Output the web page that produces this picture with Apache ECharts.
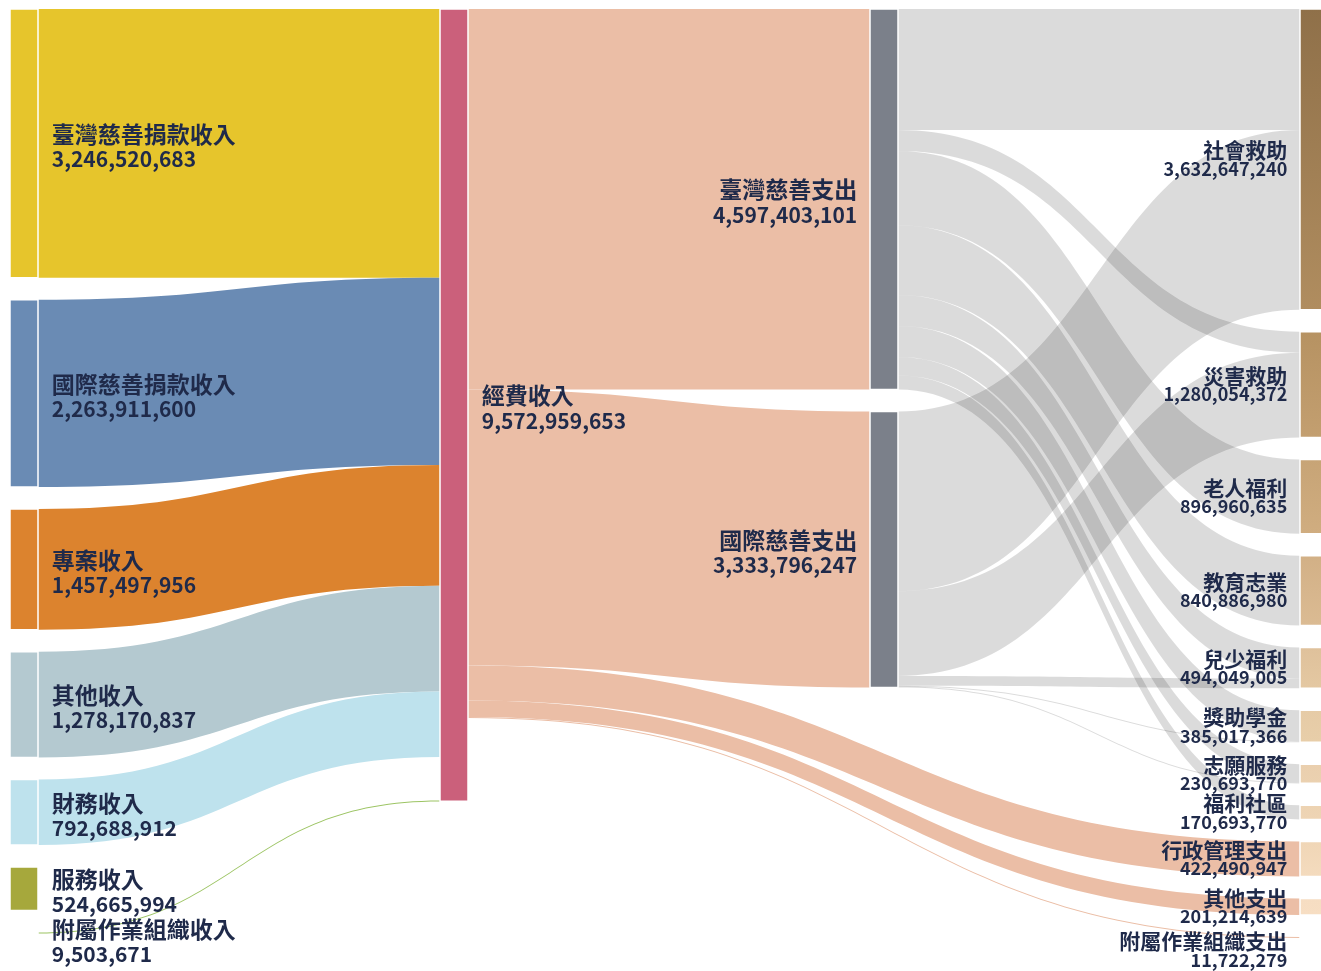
<!DOCTYPE html>
<html>
<head>
<meta charset="utf-8">
<script src="https://cdn.jsdelivr.net/npm/echarts@6/dist/echarts.min.js"></script>
<style>
  html, body { margin: 0; padding: 0; background: #fff; }
  #chart { width: 1321px; height: 971px; }
</style>
</head>
<body>
<div id="chart"></div>
<script>
// income -> 經費收入
var incomeNames = ['臺灣慈善捐款收入', '國際慈善捐款收入', '專案收入', '其他收入', '財務收入', '服務收入', '附屬作業組織收入'];
var incomeValues = [3246520683, 2263911600, 1457497956, 1278170837, 792688912, 524665994, 9503671];

var fundName = '經費收入';
var fundValue = 9572959653;

// 經費收入 -> spending
var spendNames = ['臺灣慈善支出', '國際慈善支出', '行政管理支出', '其他支出', '附屬作業組織支出'];
var spendValues = [4597403101, 3333796247, 422490947, 201214639, 11722279];

// charity spending -> programs
var programNames = ['社會救助', '災害救助', '老人福利', '教育志業', '兒少福利', '獎助學金', '志願服務', '福利社區'];
var programValues = [3632647240, 1280054372, 896960635, 840886980, 494049005, 385017366, 230693770, 170693770];
// split (臺灣 / 國際)
var twProgram = [1462000000, 255000000, 896960635, 840886980, 376049005, 375017366, 220795345, 170693770];
var intlProgram = [2170647240, 1025054372, 0, 0, 118000000, 10000000, 9898425, 0];

// styles
var incomeColors = ['#e6c52c', '#6a8bb4', '#dc832e', '#b4c9d0', '#bee2ed', '#a6a83c', '#9cc463'];
var fundColor = '#cb607b';
var charityColor = '#7b808a';
var midLinkColor = '#ebbea6';
var rightColors = [
  ['#8f7049', '#b08d5f'], ['#b69262', '#c39f70'], ['#c7a476', '#d0ad80'], ['#d2b086', '#dbbb93'],
  ['#dfc19b', '#e4c8a2'], ['#e6cba6', '#e8cea9'], ['#eacfae', '#ebd1b0'], ['#edd3b2', '#eed4b4'],
  ['#f0d6b6', '#f4dbbe'], ['#f6ddc2', '#f7dec3'], ['#f8dfc5', '#f8dfc5']
];
var textColor = '#1f2a4a';
var font = '"Noto Sans CJK TC", "Noto Sans", sans-serif';

var nodeValue = {};
incomeNames.forEach(function (n, i) { nodeValue[n] = incomeValues[i]; });
nodeValue[fundName] = fundValue;
spendNames.forEach(function (n, i) { nodeValue[n] = spendValues[i]; });
programNames.forEach(function (n, i) { nodeValue[n] = programValues[i]; });

function fmt(v) { return v.toString().replace(/\B(?=(\d{3})+(?!\d))/g, ','); }
function labelText(p) { return '{n|' + p.name + '}\n{v|' + fmt(nodeValue[p.name]) + '}'; }

var bigLabel = {
  color: textColor, distance: 13, formatter: labelText, padding: [6, 0, 0, 0],
  rich: {
    n: { fontSize: 23, lineHeight: 25, fontWeight: 'bold', color: textColor, fontFamily: font },
    v: { fontSize: 21, lineHeight: 25, fontWeight: 'bold', color: textColor, fontFamily: font }
  }
};
var smallLabel = {
  position: 'left', color: textColor, distance: 12, formatter: labelText,
  rich: {
    n: { fontSize: 21, lineHeight: 19, fontWeight: 'bold', color: textColor, fontFamily: font },
    v: { fontSize: 18, lineHeight: 18, fontWeight: 'bold', color: textColor, fontFamily: font }
  }
};

function grad(c) {
  return { type: 'linear', x: 0, y: 0, x2: 0, y2: 1, colorStops: [{ offset: 0, color: c[0] }, { offset: 1, color: c[1] }] };
}

var nodes = [];
incomeNames.forEach(function (n, i) {
  var lab = Object.assign({ position: 'right' }, bigLabel);
  if (n === '附屬作業組織收入') lab.padding = [18, 0, 0, 0]; // tiny node, label sits a bit lower
  nodes.push({ name: n, value: incomeValues[i], itemStyle: { color: incomeColors[i] }, label: lab });
});
nodes.push({ name: fundName, value: fundValue, itemStyle: { color: fundColor },
  label: Object.assign({ position: 'right' }, bigLabel) });
nodes.push({ name: spendNames[0], value: spendValues[0], itemStyle: { color: charityColor },
  label: Object.assign({}, bigLabel, { position: 'left', distance: 12 }) });
nodes.push({ name: spendNames[1], value: spendValues[1], itemStyle: { color: charityColor },
  label: Object.assign({}, bigLabel, { position: 'left', distance: 12 }) });
var rightNames = programNames.concat(spendNames.slice(2));
rightNames.forEach(function (n, i) {
  var lab = smallLabel;
  if (n === '附屬作業組織支出') lab = Object.assign({}, smallLabel, { padding: [26, 0, 0, 0] });
  nodes.push({ name: n, value: nodeValue[n], itemStyle: { color: grad(rightColors[i]) }, label: lab });
});

var links = [];
incomeNames.forEach(function (n, i) {
  links.push({ source: n, target: fundName, value: incomeValues[i],
    lineStyle: { color: incomeColors[i], opacity: n === '服務收入' ? 0 : 1 } });
});
spendNames.forEach(function (n, i) {
  links.push({ source: fundName, target: n, value: spendValues[i], lineStyle: { color: midLinkColor, opacity: 1 } });
});
programNames.forEach(function (n, i) {
  if (twProgram[i] > 0) links.push({ source: spendNames[0], target: n, value: twProgram[i] });
  if (intlProgram[i] > 0) links.push({ source: spendNames[1], target: n, value: intlProgram[i] });
});

var chart = echarts.init(document.getElementById('chart'));
chart.setOption({
  animation: false,
  series: [{
    type: 'sankey',
    left: 10, right: -7, top: 9, bottom: 33,
    nodeWidth: 28,
    nodeGap: 22,
    nodeAlign: 'justify',
    layoutIterations: 0,
    draggable: false,
    emphasis: { disabled: true },
    itemStyle: { borderColor: '#fff', borderWidth: 1.5 },
    lineStyle: { color: '#000', opacity: 0.14, curveness: 0.5 },
    data: nodes,
    links: links
  }]
});
</script>
</body>
</html>
